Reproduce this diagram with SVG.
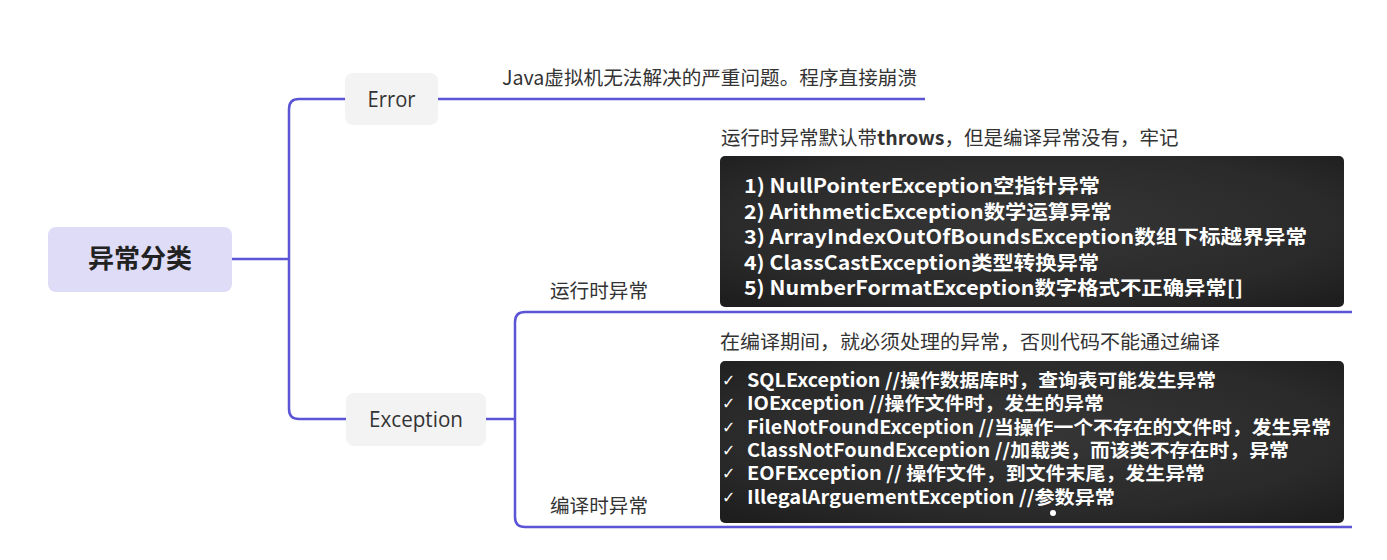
<svg xmlns="http://www.w3.org/2000/svg" width="1387" height="560" viewBox="0 0 1387 560">
<defs>
<style>
.conn{fill:none;stroke:#5b55d6;stroke-width:2.5;stroke-linecap:butt}
.lbl{font-family:"Noto Sans CJK SC","Noto Sans",sans-serif;fill:#333;font-size:19.5px}
.node{font-family:"Open Sans","Noto Sans",sans-serif;fill:#333;font-size:21px}
.board{font-family:"Noto Sans CJK SC","Noto Sans",sans-serif;fill:#fff;font-weight:bold}
.chk{font-family:"DejaVu Sans",sans-serif;fill:#fff;font-size:16px}
</style>
<radialGradient id="chalk" cx="50%" cy="45%" r="70%">
<stop offset="0" stop-color="#363636"/>
<stop offset="0.7" stop-color="#2a2a2a"/>
<stop offset="1" stop-color="#1e1e1e"/>
</radialGradient>
</defs>
<rect width="1387" height="560" fill="#fff"/>
<g id="connectors">
<path class="conn" d="M232,259 H289"/>
<path class="conn" d="M345,99 H299 Q289,99 289,109 V409 Q289,419 299,419 H346"/>
<path class="conn" d="M438,99 H925"/>
<path class="conn" d="M486,419 H515"/>
<path class="conn" d="M1352,312 H525 Q515,312 515,322 V517 Q515,527 525,527 H1352"/>
</g>
<g id="root">
<rect x="48" y="227" width="184" height="65" rx="8" fill="#dedcf7"/>
<text x="140" y="268" text-anchor="middle" font-family="Noto Sans CJK SC,sans-serif" font-weight="bold" font-size="26" fill="#222">异常分类</text>
</g>
<g id="error">
<rect x="345" y="73" width="93" height="52" rx="8" fill="#f3f3f3"/>
<text class="node" x="391.5" y="106.5" text-anchor="middle" textLength="48" lengthAdjust="spacingAndGlyphs">Error</text>
</g>
<g id="error-desc">
<text class="lbl" x="502" y="85" textLength="415" lengthAdjust="spacingAndGlyphs">Java虚拟机无法解决的严重问题。程序直接崩溃</text>
</g>
<g id="exception">
<rect x="346" y="393" width="140" height="53" rx="8" fill="#f3f3f3"/>
<text class="node" x="416" y="426.5" text-anchor="middle" textLength="94" lengthAdjust="spacingAndGlyphs">Exception</text>
</g>
<g id="runtime">
<text class="lbl" x="550" y="298" textLength="98" lengthAdjust="spacingAndGlyphs">运行时异常</text>
</g>
<g id="checked">
<text class="lbl" x="550" y="513" textLength="98" lengthAdjust="spacingAndGlyphs">编译时异常</text>
</g>
<g id="runtime-note">
<text class="lbl" x="721" y="145">运行时异常默认带<tspan font-weight="bold">throws</tspan>，但是编译异常没有，牢记</text>
<rect x="720" y="156" width="624" height="151" rx="5" fill="url(#chalk)"/>
<g class="board" font-size="19.5">
<text x="744" y="193" textLength="356" lengthAdjust="spacingAndGlyphs">1) NullPointerException空指针异常</text>
<text x="744" y="218.5" textLength="368" lengthAdjust="spacingAndGlyphs">2) ArithmeticException数学运算异常</text>
<text x="744" y="244" textLength="563" lengthAdjust="spacingAndGlyphs">3) ArrayIndexOutOfBoundsException数组下标越界异常</text>
<text x="744" y="269.5" textLength="355" lengthAdjust="spacingAndGlyphs">4) ClassCastException类型转换异常</text>
<text x="744" y="295" textLength="499" lengthAdjust="spacingAndGlyphs">5) NumberFormatException数字格式不正确异常[]</text>
</g>
</g>
<g id="checked-note">
<text class="lbl" x="720" y="349" textLength="500" lengthAdjust="spacingAndGlyphs">在编译期间，就必须处理的异常，否则代码不能通过编译</text>
<rect x="720" y="361" width="624" height="162" rx="5" fill="url(#chalk)"/>
<g class="chk">
<text x="722" y="386">✓</text>
<text x="722" y="409">✓</text>
<text x="722" y="433">✓</text>
<text x="722" y="456">✓</text>
<text x="722" y="479">✓</text>
<text x="722" y="503">✓</text>
</g>
<g class="board" font-size="18.5">
<text x="747" y="387" textLength="469" lengthAdjust="spacingAndGlyphs">SQLException //操作数据库时，查询表可能发生异常</text>
<text x="747" y="410" textLength="357" lengthAdjust="spacingAndGlyphs">IOException //操作文件时，发生的异常</text>
<text x="747" y="434" textLength="584" lengthAdjust="spacingAndGlyphs">FileNotFoundException //当操作一个不存在的文件时，发生异常</text>
<text x="747" y="457" textLength="542" lengthAdjust="spacingAndGlyphs">ClassNotFoundException //加载类，而该类不存在时，异常</text>
<text x="747" y="480" textLength="458" lengthAdjust="spacingAndGlyphs">EOFException // 操作文件，到文件末尾，发生异常</text>
<text x="747" y="504" textLength="368" lengthAdjust="spacingAndGlyphs">IllegalArguementException //参数异常</text>
</g>
<circle cx="1053" cy="513" r="3" fill="#fff"/>
</g>
</svg>
